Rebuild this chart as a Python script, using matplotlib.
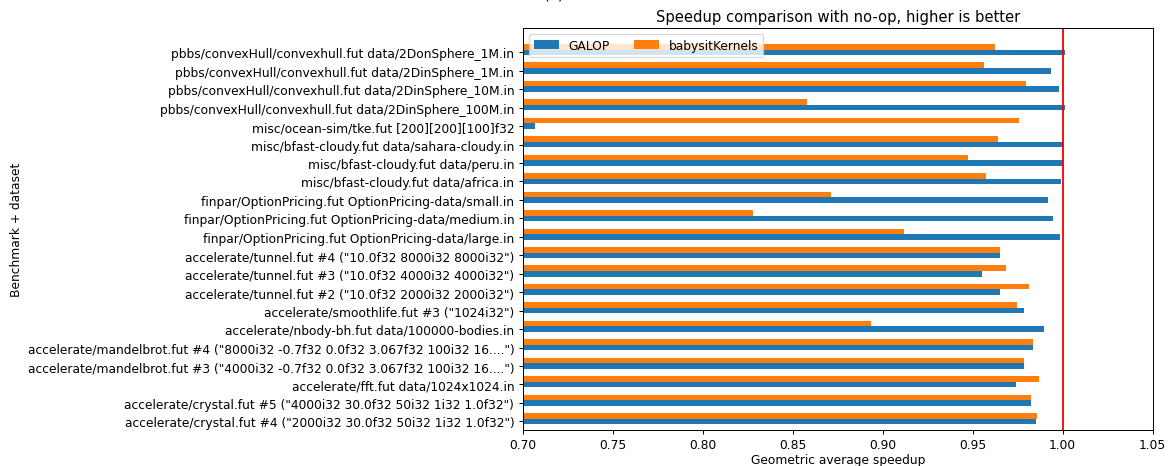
import numpy as np
import matplotlib
matplotlib.use("Agg")
import matplotlib.pyplot as plt

# benchmarks, bottom to top
benchmarks = [
    'accelerate/crystal.fut #4 ("2000i32 30.0f32 50i32 1i32 1.0f32")',
    'accelerate/crystal.fut #5 ("4000i32 30.0f32 50i32 1i32 1.0f32")',
    'accelerate/fft.fut data/1024x1024.in',
    'accelerate/mandelbrot.fut #3 ("4000i32 -0.7f32 0.0f32 3.067f32 100i32 16....")',
    'accelerate/mandelbrot.fut #4 ("8000i32 -0.7f32 0.0f32 3.067f32 100i32 16....")',
    'accelerate/nbody-bh.fut data/100000-bodies.in',
    'accelerate/smoothlife.fut #3 ("1024i32")',
    'accelerate/tunnel.fut #2 ("10.0f32 2000i32 2000i32")',
    'accelerate/tunnel.fut #3 ("10.0f32 4000i32 4000i32")',
    'accelerate/tunnel.fut #4 ("10.0f32 8000i32 8000i32")',
    'finpar/OptionPricing.fut OptionPricing-data/large.in',
    'finpar/OptionPricing.fut OptionPricing-data/medium.in',
    'finpar/OptionPricing.fut OptionPricing-data/small.in',
    'misc/bfast-cloudy.fut data/africa.in',
    'misc/bfast-cloudy.fut data/peru.in',
    'misc/bfast-cloudy.fut data/sahara-cloudy.in',
    'misc/ocean-sim/tke.fut [200][200][100]f32',
    'pbbs/convexHull/convexhull.fut data/2DinSphere_100M.in',
    'pbbs/convexHull/convexhull.fut data/2DinSphere_10M.in',
    'pbbs/convexHull/convexhull.fut data/2DinSphere_1M.in',
    'pbbs/convexHull/convexhull.fut data/2DonSphere_1M.in',
]

galop = [0.9849, 0.9822, 0.9738, 0.9783, 0.9837, 0.9894, 0.9783, 0.9653,
         0.9549, 0.9649, 0.9987, 0.9948, 0.9921, 0.9993, 1.0005, 1.0005,
         0.7067, 1.0010, 0.9977, 0.9937, 1.0010]
babysit = [0.9856, 0.9826, 0.9871, 0.9783, 0.9837, 0.8932, 0.9744, 0.9810,
           0.9683, 0.9653, 0.9116, 0.8277, 0.8715, 0.9576, 0.9472, 0.9642,
           0.9755, 0.8577, 0.9798, 0.9560, 0.9626]

DPI = 88.5
fig = plt.figure(figsize=(1175 / DPI, 467 / DPI), dpi=DPI)
ax = fig.add_axes([0.445, 0.0777, 0.536, 0.8603])

n = len(benchmarks)
y = np.arange(n)
h = 0.3
ax.barh(y, galop, height=h, color="#1f77b4", label="GALOP")
ax.barh(y + h, babysit, height=h, color="#ff7f0e", label="babysitKernels")
ax.axvline(1.0, color="red")

ax.set_yticks(y)
ax.set_yticklabels(benchmarks)
ax.set_xlim(0.70, 1.05)
ax.set_ylim(-0.45, n + 0.32)
ax.set_xticks([0.70, 0.75, 0.80, 0.85, 0.90, 0.95, 1.00, 1.05])
ax.set_xlabel("Geometric average speedup", labelpad=1)
ax.set_ylabel("Benchmark + dataset")
ax.set_title("Speedup comparison with no-op, higher is better")
ax.legend(loc="upper left", ncol=2)

fig.text(0.4715, 1.004, "(a)", ha="center", va="baseline", fontsize=12)

fig.savefig("out.png", dpi=DPI)
